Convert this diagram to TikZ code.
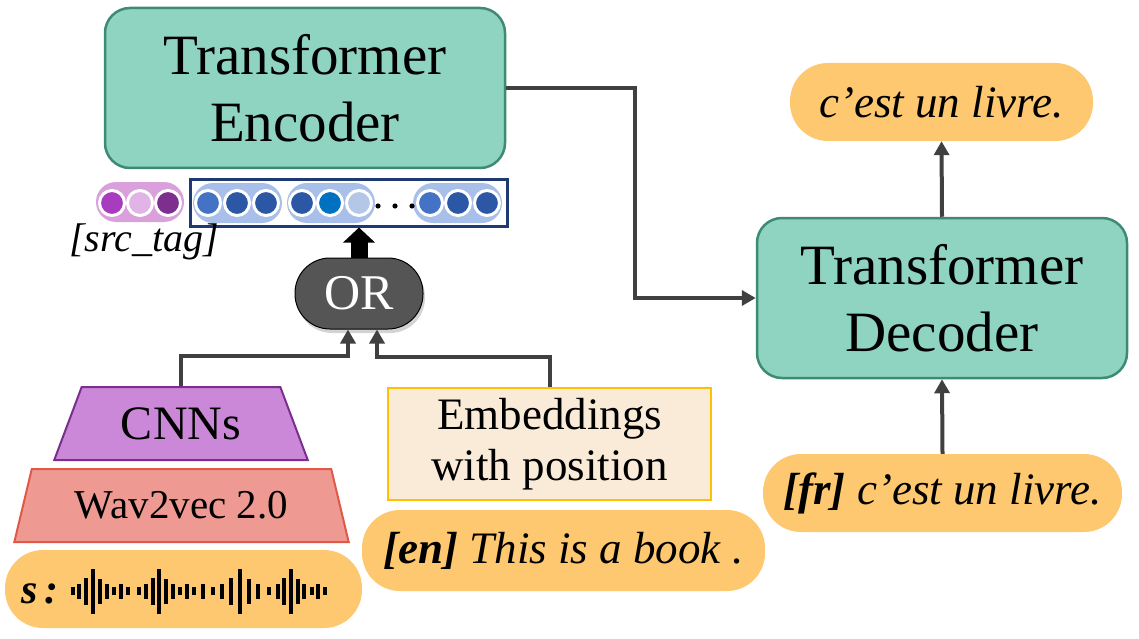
\documentclass[tikz,border=0pt]{standalone}
\usepackage{fontspec}
\setmainfont{Liberation Serif}
\usetikzlibrary{arrows.meta,shapes.geometric,shadows}
\definecolor{tealfill}{HTML}{8FD3C1}
\definecolor{tealdraw}{HTML}{3D8B73}
\definecolor{pillor}{HTML}{FDC870}
\definecolor{embfill}{HTML}{F9EBD8}
\definecolor{embdraw}{HTML}{FFC000}
\definecolor{cnnfill}{HTML}{CC88D8}
\definecolor{cnndraw}{HTML}{7A2E8E}
\definecolor{wavfill}{HTML}{EE9A92}
\definecolor{wavdraw}{HTML}{E05848}
\definecolor{orfill}{HTML}{555555}
\definecolor{arrowc}{HTML}{404040}
\definecolor{navy}{HTML}{1F3A70}
\definecolor{bluepill}{HTML}{A8BFE9}
\definecolor{purplepill}{HTML}{D9A0DB}
\definecolor{bA}{HTML}{4472C4}
\definecolor{bB}{HTML}{2B57A5}
\definecolor{bC}{HTML}{0070C0}
\definecolor{bD}{HTML}{B4C7E7}
\definecolor{pA}{HTML}{A83CBF}
\definecolor{pB}{HTML}{E0B4E6}
\definecolor{pC}{HTML}{7E2E8E}
\tikzset{
  tbox/.style={draw=tealdraw, fill=tealfill, line width=2.5pt, rounded corners=25pt,
    minimum width=#1, minimum height=160pt, align=center, inner sep=0pt,
    font=\fontsize{57}{67}\selectfont},
  pill/.style={fill=pillor, rounded corners=38pt, inner sep=0pt, align=center,
    font=\fontsize{45}{50}\selectfont\itshape},
  conn/.style={draw=arrowc, line width=4pt, -{Triangle[length=14pt,width=15pt]}},
  dot/.style={circle, fill=#1, draw=white, line width=3pt, minimum size=25pt, inner sep=0pt},
}
\begin{document}
\begin{tikzpicture}[x=1pt,y=-1pt]
\useasboundingbox (0,0) rectangle (1139,639);

% encoder / decoder
\node[tbox=400pt] (enc) at (305,88) {Transformer\\Encoder};
\node[tbox=370pt] (dec) at (942,298) {Transformer\\Decoder};

% pills
\node[pill, minimum width=303pt, minimum height=78pt] (out) at (941.5,102) {c'est un livre.};
\node[pill, minimum width=359pt, minimum height=78pt] (fr) at (942.5,493) {\textbf{[fr]} c'est un livre.};
\node[pill, minimum width=403pt, minimum height=81pt] (en) at (563.5,550.5) {\textbf{[en]} This is a book .};
\node[pill, minimum width=357pt, minimum height=78pt] (sp) at (183.5,589) {};
\node[font=\fontsize{42}{42}\selectfont\bfseries\itshape, anchor=base] (slab) at (40,603) {s\,:};

% waveform
\foreach \x/\h in {73/8,79/15,86/27,93/45,100/25,107/15,114/8,121/15,128/8,
  139/8,146/15,153/27,159/45,166/25,173/15,180/8,187/15,194/8,203/15,213/8,
  222/15,231/27,240/45,249/25,258/15,269/8,278/15,284/27,291/45,298/25,304/15,312/8,318/15,325/8}
  \fill[black] (\x-2,591-\h/2) rectangle (\x+2,591+\h/2);

% embeddings
\node[draw=embdraw, fill=embfill, line width=2.5pt, minimum width=323pt, minimum height=112pt,
  align=center, inner sep=0pt, font=\fontsize{45}{51}\selectfont] (emb) at (549.5,444) {Embeddings\\with position};

% CNN / wav2vec trapezoids
\node[trapezium, trapezium stretches=true, draw=wavdraw, fill=wavfill, line width=2pt,
  minimum width=335pt, minimum height=73pt, trapezium left angle=66, trapezium right angle=66,
  inner sep=0pt, font=\fontsize{41}{41}\selectfont] (wav) at (181.5,505.5) {Wav2vec 2.0};
\node[trapezium, trapezium stretches=true, draw=cnndraw, fill=cnnfill, line width=2pt,
  minimum width=254pt, minimum height=73pt, trapezium left angle=62.8, trapezium right angle=62.8,
  inner sep=0pt, font=\fontsize{48}{48}\selectfont] (cnn) at (181,423.5) {CNNs};

% OR node
\node[fill=orfill, draw=black, line width=1pt, rounded corners=35pt, minimum width=128pt,
  minimum height=71pt, inner sep=0pt, text=white,
  font=\fontsize{50}{50}\selectfont,
  drop shadow={opacity=0.35, shadow xshift=2pt, shadow yshift=-4pt}] (or) at (359,293.5) {OR};

% vector
\node[draw=navy, line width=3pt, minimum width=317pt, minimum height=47pt, inner sep=0pt] (vec) at (348.5,202.5) {};
\node[fill=purplepill, rounded corners=20pt, minimum width=88pt, minimum height=40pt, inner sep=0pt] (tag) at (140,202) {};
\node[fill=bluepill, rounded corners=20pt, minimum width=89pt, minimum height=40pt, inner sep=0pt] (g1) at (237.5,203) {};
\node[fill=bluepill, rounded corners=20pt, minimum width=88pt, minimum height=40pt, inner sep=0pt] (g2) at (331,203) {};
\node[fill=bluepill, rounded corners=20pt, minimum width=89pt, minimum height=40pt, inner sep=0pt] (g3) at (457.5,203) {};
\node[dot=pA] (p1) at (112,203) {};
\node[dot=pB] (p2) at (140,203) {};
\node[dot=pC] (p3) at (168,203) {};
\node[dot=bA] (a1) at (208,203) {};
\node[dot=bB] (a2) at (237,203) {};
\node[dot=bB] (a3) at (266,203) {};
\node[dot=bB] (b1) at (302,203) {};
\node[dot=bC] (b2) at (330,203) {};
\node[dot=bD] (b3) at (359,203) {};
\node[dot=bA] (c1) at (430,203) {};
\node[dot=bB] (c2) at (458,203) {};
\node[dot=bB] (c3) at (487,203) {};
\foreach \x [count=\i] in {378,395,412} \fill[black] (\x,206) circle (2.6pt);
\node[font=\fontsize{40}{40}\selectfont\itshape] (srctag) at (144,242) {[src\_tag]};

% connectors
\draw[conn] (enc.east) -- ++(129,0) |- (dec.west);
\draw[conn] (dec.north) -- (out.south);
\draw[conn] (fr.north) -- (dec.south);
\draw[conn] (cnn.north) -- ++(0,-30) -| ([xshift=-11pt]or.south);
\draw[conn] (emb.north) -- ++(0,-30) -| ([xshift=18pt]or.south);
\draw[black, line width=17pt, -{Triangle[length=15pt,width=31pt]}] (or.north) -- (or.north |- vec.south);
\end{tikzpicture}
\end{document}
